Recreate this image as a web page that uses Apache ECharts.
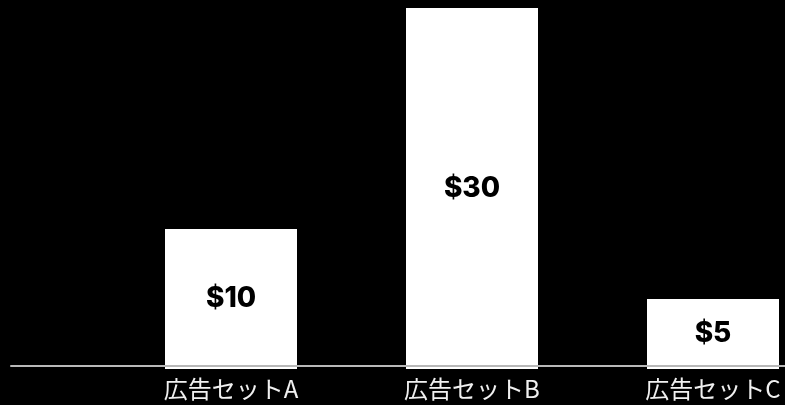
<!DOCTYPE html>
<html>
<head>
<meta charset="utf-8">
<script src="https://cdn.jsdelivr.net/npm/echarts@6/dist/echarts.min.js"></script>
<style>
html,body{margin:0;padding:0;background:#000;}
#c{width:785px;height:405px;}
</style>
</head>
<body>
<div id="c"></div>
<script>
const categories = ['広告セットA', '広告セットB', '広告セットC'];
const costValues = [10, 30, 5];
const valuePrefix = '$';

const chart = echarts.init(document.getElementById('c'), null, {renderer: 'canvas'});
chart.setOption({
  backgroundColor: '#000',
  animation: false,
  grid: [
    {left: 110.5, right: -48.5, top: 8, bottom: 36, outerBoundsMode: 'none', containLabel: false},
    {left: 11, right: 0, top: 8, bottom: 39, outerBoundsMode: 'none'}
  ],
  xAxis: [
    {
      type: 'category', gridIndex: 0, data: categories,
      axisLine: {show: false}, axisTick: {show: false},
      axisLabel: {color: '#f0f0f0', fontSize: 24, fontFamily: 'Noto Sans CJK JP', margin: 8}
    },
    {
      type: 'value', gridIndex: 1, min: 0, max: 1, z: 10,
      axisLine: {show: true, lineStyle: {color: '#b8b8b8', width: 2}},
      axisTick: {show: false}, axisLabel: {show: false}, splitLine: {show: false}
    }
  ],
  yAxis: [
    {type: 'value', gridIndex: 0, min: 0, max: 25.8, show: false, splitLine: {show: false}},
    {type: 'value', gridIndex: 1, min: 0, max: 1, show: false, splitLine: {show: false}}
  ],
  series: [{
    type: 'bar',
    xAxisIndex: 0, yAxisIndex: 0,
    data: costValues,
    barWidth: 132,
    clip: true,
    itemStyle: {color: '#ffffff'},
    label: {
      show: true, position: 'inside', color: '#000',
      fontSize: 28, fontWeight: 800, fontFamily: 'Inter',
      formatter: p => valuePrefix + p.value
    }
  }]
});
</script>
</body>
</html>
